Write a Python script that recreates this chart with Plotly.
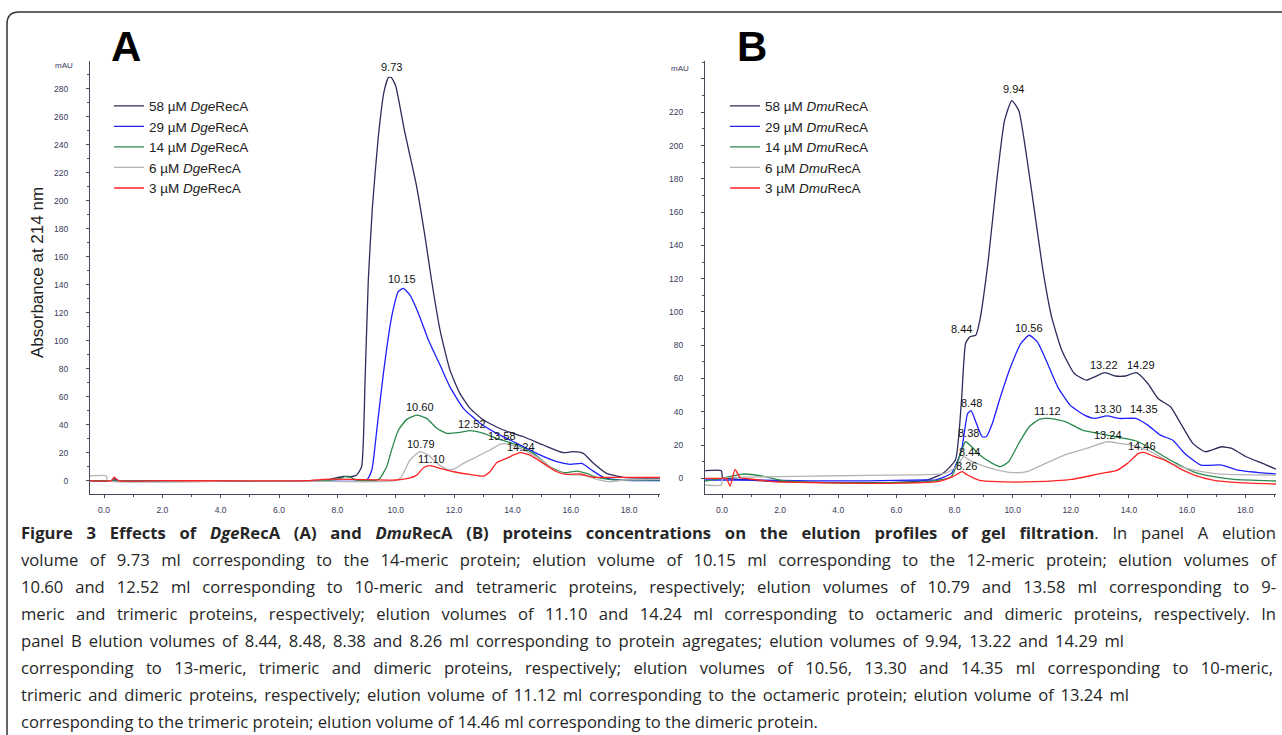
import json
import plotly.graph_objects as go

# ---------------- DATA ----------------
legend_A = ["58 µM <i>Dge</i>RecA", "29 µM <i>Dge</i>RecA", "14 µM <i>Dge</i>RecA",
            "6 µM <i>Dge</i>RecA", "3 µM <i>Dge</i>RecA"]
legend_B = ["58 µM <i>Dmu</i>RecA", "29 µM <i>Dmu</i>RecA", "14 µM <i>Dmu</i>RecA",
            "6 µM <i>Dmu</i>RecA", "3 µM <i>Dmu</i>RecA"]

# Panel A (DgeRecA) elution volume (ml) / absorbance (mAU)
a58_x = [-0.48, 0.25, 0.35, 0.45, 2, 5, 7.4, 7.75, 8.2, 8.5, 8.66, 8.83, 8.95, 9.06, 9.2, 9.4, 9.6, 9.75, 9.85,
         10.0, 10.3, 10.7, 11.0, 11.23, 11.52, 11.86, 12.2, 12.55, 13.01, 13.69, 14.38, 15.06, 15.75, 16.09,
         16.43, 16.78, 17.23, 17.81, 19.06]
a58_y = [0, 0, 1.5, 0, 0, 0, 0, 1, 3, 3, 4, 10, 72, 143, 195, 245, 278, 288, 288,
         282, 250, 212, 175, 143, 107.6, 79, 62.4, 51.7, 43.3, 36.2, 31.4, 25.5, 20, 20.7,
         19.5, 12.4, 5.2, 2.4, 1.9]
a29_x = [-0.48, 2.5, 3.3, 7, 9.0, 9.18, 9.35, 9.58, 9.86, 10.09, 10.26, 10.49, 10.78, 11.12, 11.52, 11.86,
         12.32, 12.89, 13.46, 14.15, 14.83, 15.52, 15.98, 16.38, 16.72, 17.12, 17.69, 19.06]
a29_y = [0, -0.5, -0.5, 0, 0.5, 7.6, 36, 77, 117, 135, 137.4, 132.6, 119.5, 100.5, 82.6, 67,
         51.7, 41, 33.8, 26.7, 19.5, 13.6, 11.7, 12.4, 7.6, 2.4, 0.5, 0]
a14_x = [-0.48, 7.5, 8.09, 8.26, 8.43, 8.66, 9.35, 9.46, 9.69, 9.86, 10.09, 10.38, 10.72, 11.06, 11.41, 11.75,
         12.15, 12.55, 13.01, 13.46, 14.15, 14.72, 15.29, 15.75, 16.21, 16.55, 16.89, 17.58, 19.06]
a14_y = [0, 0, 1.5, 2.9, 2.5, 0.5, 0.5, 1.7, 10, 22, 36, 43.8, 46.9, 44.5, 37.4, 33.8,
         34.3, 35.7, 33.8, 30.2, 25.5, 19.5, 10, 5.7, 6.9, 5.2, 2.4, 0.5, 0.5]
a6_x = [-0.48, 0.08, 0.12, 5, 8.43, 9.35, 10.0, 10.2, 10.49, 10.83, 11.12, 11.41, 11.75, 11.98, 12.32, 12.78,
        13.23, 13.58, 13.86, 14.26, 14.83, 15.41, 15.86, 16.43, 16.89, 17.35, 17.81, 19.06]
a6_y = [3.5, 3.5, 0, 0, -0.7, -0.7, 0, 2.9, 14.8, 20.7, 18.3, 12.4, 8.1, 8.1, 12.4, 17.1,
        21.9, 26, 26.2, 23.1, 17.1, 8.1, 4.5, 4, 1, -0.7, 0.5, 1]
a3_x = [-0.48, 0.25, 0.35, 0.5, 2, 7, 7.5, 8.5, 10.0, 10.38, 10.72, 10.95, 11.18, 11.52, 11.98, 12.55, 13.01,
        13.23, 13.46, 13.8, 14.26, 14.61, 15.06, 15.52, 15.86, 16.32, 16.78, 17.35, 19.06]
a3_y = [0, 0, 2.5, 0, 0, 0, 1, 1, 0.5, 1.4, 4, 9.3, 10.7, 8.8, 6.4, 4.5, 3.3,
        6.4, 12.9, 16, 20, 18.3, 12.4, 6.4, 4.5, 4.8, 2.4, 2.4, 2.4]

# Panel B (DmuRecA)
b58_x = [-0.58, -0.02, 0.02, 1.0, 2.0, 4.0, 6.0, 7.04, 7.6, 8.03, 8.24, 8.38, 8.52, 8.73, 8.87, 9.16, 9.44,
         9.72, 9.97, 10.21, 10.5, 10.78, 11.06, 11.34, 11.69, 12.12, 12.54, 12.82, 13.17, 13.53, 13.88,
         14.26, 14.65, 15.0, 15.43, 15.78, 16.2, 16.63, 17.19, 17.54, 18.03, 18.6, 19.06]
b58_y = [4.6, 4.6, 0.5, -1, -2, -2.6, -2.4, -1, 3, 11, 47, 81, 85, 86, 95, 131, 177,
         215, 227, 221, 191, 157, 123, 97, 77, 63, 59, 61, 63.5, 61.5, 61.5,
         63.5, 57, 48, 43, 33, 21, 16, 19, 18, 13, 9, 5.5]
b29_x = [-0.58, 0.0, 1.0, 3.0, 5.0, 7.0, 7.33, 7.89, 8.24, 8.45, 8.57, 8.73, 8.95, 9.09, 9.3, 9.58, 9.93,
         10.28, 10.57, 10.85, 11.2, 11.55, 11.98, 12.47, 12.82, 13.24, 13.67, 14.23, 14.65, 15.08, 15.5,
         15.92, 16.48, 17.19, 17.75, 19.06]
b29_y = [-1, -1, -1, -1.5, -1.5, -1, -1, 3, 17, 39, 40.7, 34, 25, 25, 33, 49, 67,
         81, 86, 82, 69, 55, 44, 38, 36, 37.5, 36, 36, 32, 26, 23,
         15, 8, 8, 5, 2.6]
b14_x = [-0.58, 0.0, 0.7, 1.4, 2.1, 3.52, 5.63, 7.04, 7.89, 8.17, 8.38, 8.59, 8.87, 9.3, 9.58, 9.86, 10.21,
         10.57, 10.92, 11.27, 11.83, 12.4, 12.96, 13.53, 14.23, 14.65, 15.22, 15.64, 16.2, 16.91, 17.61, 19.06]
b14_y = [-1.6, 0, 2.6, 1.4, -1.4, -2.6, -2.6, -2, 1, 13, 22, 19, 14, 9, 7, 10, 21,
         31, 35.5, 36, 34, 29, 27, 25, 22.6, 19, 13, 9, 4, 1, -0.6, -1.6]
b6_x = [-0.58, -0.02, 0.02, 1.0, 3.0, 5.0, 7.0, 7.68, 8.07, 8.32, 8.51, 8.96, 9.47, 10.11, 10.5, 11.01,
        11.78, 12.54, 13.25, 13.69, 14.33, 14.97, 15.48, 15.99, 16.51, 17.15, 19.06]
b6_y = [-4, -4, 0, 0.8, 1.3, 1.8, 2.2, 3, 7, 13, 11, 7.6, 5, 3.4, 4, 8,
        14, 18, 22, 21, 19, 14, 9, 6, 4, 2.6, 2]
b3_x = [-0.58, 0.0, 0.15, 0.28, 0.45, 0.63, 0.8, 1.8, 5.64, 7.43, 7.94, 8.26, 8.45, 8.83, 9.47, 10.75,
        12.03, 13.05, 13.56, 13.95, 14.33, 14.52, 14.84, 15.23, 15.74, 16.25, 16.89, 17.79, 19.06]
b3_y = [0, 0, 0, -4.6, 5.4, 0.2, 0, -2, -3, -2, 1, 4, 2, -1, -2, -2,
        -0.6, 3, 4.6, 9, 15, 15.6, 13.4, 11, 6, 2, -1, -2.6, -3.4]

# Peak labels (text, x in ml, y in mAU)
peaks_A_text = ["9.73", "10.15", "10.60", "12.52", "13.58", "14.24", "10.79", "11.10"]
peaks_A_x = [9.87, 10.2, 10.83, 12.63, 13.64, 14.28, 10.88, 11.23]
peaks_A_y = [295.5, 144, 52.3, 40.3, 31.6, 24.2, 26.2, 15.3]
peaks_B_text = ["9.94", "8.44", "10.56", "13.22", "14.29", "8.48", "11.12", "13.30", "14.35",
                "8.38", "13.24", "8.44", "14.46", "8.26"]
peaks_B_x = [10.03, 8.24, 10.56, 13.15, 14.4, 8.6, 11.2, 13.27, 14.51, 8.49, 13.28, 8.53, 14.45, 8.4]
peaks_B_y = [233.8, 89.7, 90.5, 68.3, 68.3, 45.4, 40.4, 41.8, 41.8, 27, 26.2, 16, 19.4, 7.6]

x_ticks = [0, 2, 4, 6, 8, 10, 12, 14, 16, 18]
yA_ticks = list(range(0, 281, 20))
yB_ticks = list(range(0, 241, 20))
yB_ticktext = [str(v) for v in yB_ticks[:-1]] + [""]

caption_lines = [
    "<b>Figure 3 Effects of <i>Dge</i>RecA (A) and <i>Dmu</i>RecA (B) proteins concentrations on the elution profiles of gel filtration</b>. In panel A elution",
    "volume of 9.73 ml corresponding to the 14-meric protein; elution volume of 10.15 ml corresponding to the 12-meric protein; elution volumes of",
    "10.60 and 12.52 ml corresponding to 10-meric and tetrameric proteins, respectively; elution volumes of 10.79 and 13.58 ml corresponding to 9-",
    "meric and trimeric proteins, respectively; elution volumes of 11.10 and 14.24 ml corresponding to octameric and dimeric proteins, respectively. In",
    "panel B elution volumes of 8.44, 8.48, 8.38 and 8.26 ml corresponding to protein agregates; elution volumes of 9.94, 13.22 and 14.29 ml",
    "corresponding to 13-meric, trimeric and dimeric proteins, respectively; elution volumes of 10.56, 13.30 and 14.35 ml corresponding to 10-meric,",
    "trimeric and dimeric proteins, respectively; elution volume of 11.12 ml corresponding to the octameric protein; elution volume of 13.24 ml",
    "corresponding to the trimeric protein; elution volume of 14.46 ml corresponding to the dimeric protein.",
]
# line widths of the justified caption block (px)
caption_widths = [1255, 1255, 1255, 1255, 1103, 1252, 1108, 0]

# ---------------- STYLE ----------------
W, H = 1282, 735
colors = ["#2d2d5c", "#1f1fff", "#2a8a4e", "#b4b4b4", "#ff2424"]
ARIAL = "Liberation Sans, Arial, sans-serif"
CAP_X = 19


def px_x(p):
    return p / W


def px_y(p):
    return (H - p) / H


fig = go.Figure()

A_series = [(a58_x, a58_y), (a29_x, a29_y), (a14_x, a14_y), (a6_x, a6_y), (a3_x, a3_y)]
B_series = [(b58_x, b58_y), (b29_x, b29_y), (b14_x, b14_y), (b6_x, b6_y), (b3_x, b3_y)]

for i, (xs, ys) in enumerate(A_series):
    fig.add_trace(go.Scatter(x=xs, y=ys, mode="lines", name=legend_A[i],
                             line=dict(color=colors[i], width=1.3, shape="spline", smoothing=0.5),
                             xaxis="x", yaxis="y", legend="legend", hoverinfo="skip"))
for i, (xs, ys) in enumerate(B_series):
    fig.add_trace(go.Scatter(x=xs, y=ys, mode="lines", name=legend_B[i],
                             line=dict(color=colors[i], width=1.3, shape="spline", smoothing=0.5),
                             xaxis="x2", yaxis="y2", legend="legend2", hoverinfo="skip"))

ydom = [px_y(494), px_y(61)]
axis_common = dict(showline=True, linecolor="#4a4a5a", linewidth=1, showgrid=False, zeroline=False,
                   ticks="outside", ticklen=3, tickcolor="#4a4a5a", tickwidth=1)
xaxis_common = dict(axis_common, tickvals=x_ticks, tickformat=".1f", ticklabelstandoff=5,
                    tickfont=dict(family=ARIAL, size=8.5, color="#3a3a5a"),
                    minor=dict(dtick=1, tick0=0, ticks="outside", ticklen=2, tickcolor="#4a4a5a"))

annotations = []


def paper_text(text, x, y, size, color="#222", **kw):
    d = dict(text=text, x=px_x(x), y=px_y(y), xref="paper", yref="paper", showarrow=False,
             xanchor="center", yanchor="middle", font=dict(family=ARIAL, size=size, color=color))
    d.update(kw)
    return d


for t, x, y in zip(peaks_A_text, peaks_A_x, peaks_A_y):
    annotations.append(dict(text=t, x=x, y=y, xref="x", yref="y", showarrow=False,
                            xanchor="center", yanchor="middle",
                            font=dict(family=ARIAL, size=11, color="#111")))
for t, x, y in zip(peaks_B_text, peaks_B_x, peaks_B_y):
    annotations.append(dict(text=t, x=x, y=y, xref="x2", yref="y2", showarrow=False,
                            xanchor="center", yanchor="middle",
                            font=dict(family=ARIAL, size=11, color="#111")))
annotations.append(paper_text("<b>A</b>", 126, 46, 42, "#000"))
annotations.append(paper_text("<b>B</b>", 752, 46, 42, "#000"))
annotations.append(paper_text("mAU", 64, 66, 8, "#3a3a5a"))
annotations.append(paper_text("mAU", 680, 68, 8, "#3a3a5a"))
annotations.append(paper_text("Absorbance at 214 nm", 37, 273, 17, "#222", textangle=-90))

cap_index = {}
for k, line in enumerate(caption_lines):
    cap_index[len(annotations)] = caption_widths[k]
    annotations.append(dict(text=line, x=px_x(CAP_X), y=px_y(532 + 27 * k), xref="paper", yref="paper",
                            xanchor="left", yanchor="middle", showarrow=False,
                            font=dict(family="Open Sans, sans-serif", size=16.6, color="#262626")))

r = 12
x0 = px_x(7)
yt = px_y(12)
border_path = f"M 1.02,{yt} L {x0 + r / W},{yt} Q {x0},{yt} {x0},{yt - r / H} L {x0},-0.02"

legend_common = dict(bgcolor="rgba(0,0,0,0)", borderwidth=0, font=dict(family=ARIAL, size=13.5, color="#222"),
                     xanchor="left", yanchor="top", tracegroupgap=0, itemwidth=30)

fig.update_layout(
    width=W, height=H, margin=dict(l=0, r=0, t=0, b=0),
    paper_bgcolor="white", plot_bgcolor="white",
    showlegend=True,
    xaxis=dict(xaxis_common, domain=[px_x(90), px_x(660)], range=[-0.48, 19.06], anchor="y"),
    yaxis=dict(axis_common, domain=ydom, range=[-9.5, 299.8], tickvals=yA_ticks, anchor="x",
               tickfont=dict(family=ARIAL, size=8.5, color="#3a3a5a"), ticklabelstandoff=16,
               minor=dict(dtick=10, tick0=0, ticks="outside", ticklen=2, tickcolor="#4a4a5a")),
    xaxis2=dict(xaxis_common, domain=[px_x(705), px_x(1276)], range=[-0.585, 19.06], anchor="y2"),
    yaxis2=dict(axis_common, domain=ydom, range=[-9.4, 250.8], tickvals=yB_ticks, ticktext=yB_ticktext,
                anchor="x2", tickfont=dict(family=ARIAL, size=8.5, color="#3a3a5a"), ticklabelstandoff=16,
                minor=dict(dtick=10, tick0=0, ticks="outside", ticklen=2, tickcolor="#4a4a5a")),
    legend=dict(legend_common, x=px_x(109), y=px_y(90.5)),
    legend2=dict(legend_common, x=px_x(725), y=px_y(90.5)),
    annotations=annotations,
    shapes=[dict(type="path", path=border_path, xref="paper", yref="paper",
                 line=dict(color="#333", width=1.5))],
)

# page: no body margin; stretch caption word spacing to the justified block widths,
# keeping each line's left edge in place
post_js = """
document.body.style.margin = '0px';
var gd = document.querySelector('.plotly-graph-div');
var targets = %s;
Object.keys(targets).forEach(function(k){
  var tw = targets[k];
  if (!tw) return;
  var g = gd.querySelector('g.annotation[data-index="' + k + '"]');
  if (!g) return;
  var t = g.querySelector('text');
  if (!t) return;
  var b0 = t.getBBox();
  var w = t.getComputedTextLength();
  var gaps = (t.textContent.match(/[ \\u00a0]/g) || []).length;
  var extra = tw - w;
  if (extra > 0 && gaps > 0) {
    t.style.wordSpacing = (extra / gaps) + 'px';
    var b1 = t.getBBox();
    var x = parseFloat(t.getAttribute('x') || '0');
    t.setAttribute('x', x + (b0.x - b1.x));
  }
});
""" % json.dumps({str(k): v for k, v in cap_index.items()})

fig.write_html("out.html", post_script=post_js, config={"displayModeBar": False})
